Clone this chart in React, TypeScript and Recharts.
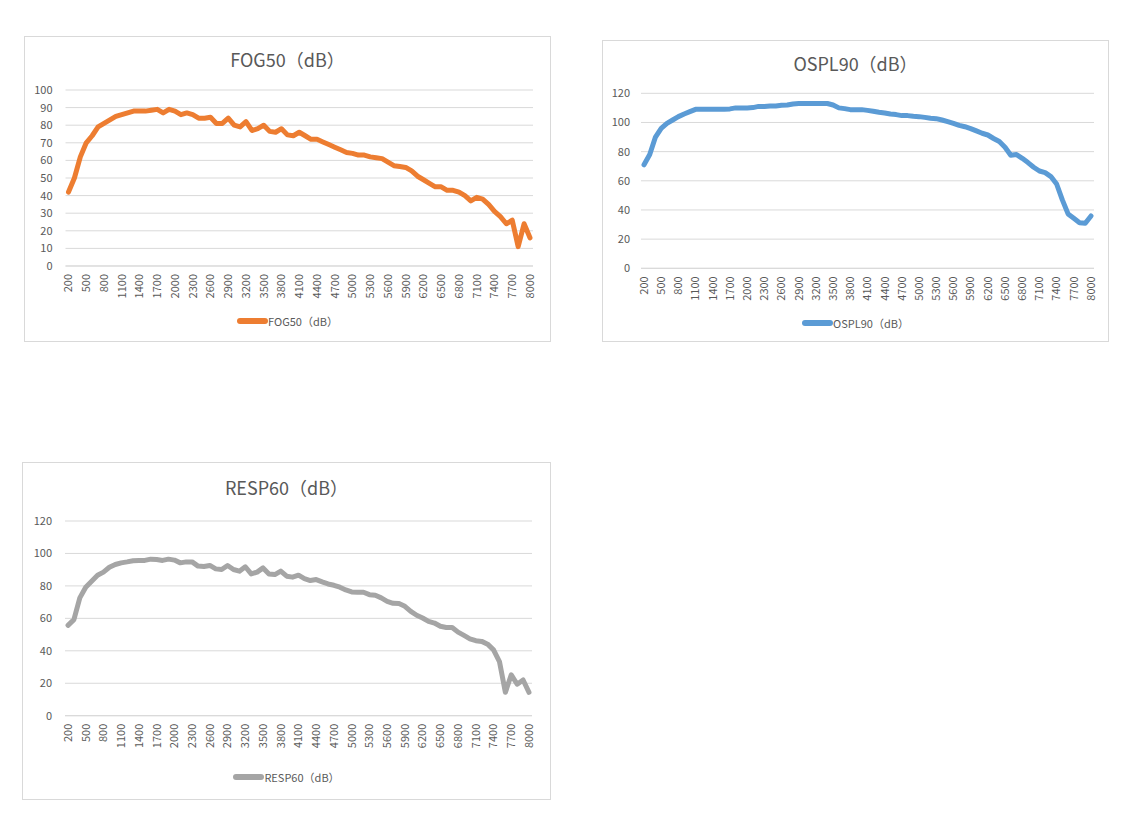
import React from 'react';
import { LineChart, Line, XAxis, YAxis, CartesianGrid, Legend } from 'recharts';

const FREQUENCIES = [
  200, 300, 400, 500, 600, 700, 800, 900, 1000, 1100, 1200, 1300, 1400, 1500, 1600, 1700, 1800, 1900, 2000,
  2100, 2200, 2300, 2400, 2500, 2600, 2700, 2800, 2900, 3000, 3100, 3200, 3300, 3400, 3500, 3600, 3700, 3800,
  3900, 4000, 4100, 4200, 4300, 4400, 4500, 4600, 4700, 4800, 4900, 5000, 5100, 5200, 5300, 5400, 5500, 5600,
  5700, 5800, 5900, 6000, 6100, 6200, 6300, 6400, 6500, 6600, 6700, 6800, 6900, 7000, 7100, 7200, 7300, 7400,
  7500, 7600, 7700, 7800, 7900, 8000,
];

const FOG50 = [
  42, 50, 62, 70, 74, 79, 81, 83, 85, 86, 87, 88, 88, 88, 88.5, 89, 87, 89, 88,
  86, 87, 86, 84, 84, 84.5, 81, 81, 84, 80, 79, 82, 77, 78, 80, 76.5, 76, 78,
  74.5, 74, 76, 74, 72, 72, 70.5, 69, 67.5, 66, 64.5, 64, 63, 63, 62, 61.5, 61, 59,
  57, 56.5, 56, 54, 51, 49, 47, 45, 45, 43, 43, 42, 40, 37, 39, 38, 35, 31,
  28, 24, 26, 11, 24, 16,
];

const OSPL90 = [
  71, 78, 90, 96, 99.4, 101.7, 104, 105.8, 107.4, 109, 109, 109, 109, 109, 109, 109.3, 110, 110, 110,
  110.2, 111, 111, 111.3, 111.3, 111.8, 112, 112.7, 113, 113, 113, 113, 113, 113, 112, 110, 109.5, 108.8,
  108.8, 108.8, 108.3, 107.7, 107, 106.5, 105.8, 105.4, 104.7, 104.7, 104.2, 104, 103.5, 102.9, 102.6, 101.7, 100.6, 99.4,
  98, 97.1, 95.8, 94.2, 92.6, 91.4, 89, 86.9, 83, 77.5, 78, 75.4, 72.5, 69.3, 66.7, 65.6, 62.9, 57.8,
  46.9, 37.3, 34.3, 31.3, 30.9, 35.9,
];

const RESP60 = [
  55.7, 59.2, 72.6, 79.2, 82.9, 86.6, 88.5, 91.5, 93.2, 94.2, 94.8, 95.5, 95.7, 95.7, 96.5, 96.3, 95.7, 96.5, 95.9,
  94.2, 94.8, 94.8, 92.2, 92, 92.6, 90.5, 90.1, 92.6, 90.1, 89.1, 91.8, 87.4, 88.5, 91.1, 87.4, 87, 89.1,
  86, 85.4, 86.6, 84.5, 83.3, 83.9, 82.5, 81.2, 80.4, 79.2, 77.5, 76.3, 76.1, 76.1, 74.6, 74.2, 72.6, 70.5,
  69.3, 69.1, 67.4, 64.3, 61.9, 60.2, 58.1, 57.1, 55.1, 54.4, 54.4, 51.5, 49.5, 47.4, 46.2, 45.8, 44.1, 40.6,
  33.4, 14.4, 25.2, 19.4, 22, 14.4,
];

const TICKS_100 = [0, 10, 20, 30, 40, 50, 60, 70, 80, 90, 100];
const TICKS_120 = [0, 20, 40, 60, 80, 100, 120];

const TITLE_FOG = 'FOG50（dB）';
const TITLE_OSPL = 'OSPL90（dB）';
const TITLE_RESP = 'RESP60（dB）';

const FONT = '"Noto Sans CJK SC", "Noto Sans", sans-serif';
const TEXT = '#595959';
const GRID = '#d9d9d9';

function XTick(props: any) {
  const { x, y, payload } = props;
  return (
    <text
      x={x}
      y={y}
      transform={`rotate(-90, ${x}, ${y})`}
      textAnchor="end"
      dy="0.35em"
      fill={TEXT}
      fontSize={11}
      fontFamily={FONT}
    >
      {payload.value}
    </text>
  );
}

type PanelProps = {
  left: number;
  top: number;
  width: number;
  height: number;
  title: string;
  values: number[];
  color: string;
  ticks: number[];
  margin: { top: number; right: number; bottom: number; left: number };
  yGap: number;
  xGap: number;
  titleCenter: number;
  legendCenter: number;
};

function Panel(p: PanelProps) {
  const rows = FREQUENCIES.map((f, i) => ({ f, v: p.values[i] }));
  const cw = p.width - 2;
  const ch = p.height - 2;
  return (
    <div
      style={{
        position: 'absolute',
        left: p.left,
        top: p.top,
        width: p.width,
        height: p.height,
        border: `1px solid ${GRID}`,
        boxSizing: 'border-box',
        background: '#fff',
      }}
    >
      <div
        style={{
          position: 'absolute',
          left: 0,
          width: cw,
          top: p.titleCenter - 14,
          height: 28,
          lineHeight: '28px',
          textAlign: 'center',
          fontFamily: FONT,
          fontSize: 18,
          color: TEXT,
          whiteSpace: 'nowrap',
        }}
      >
        {p.title}
      </div>
      <LineChart width={cw} height={ch} data={rows} margin={p.margin}>
        <CartesianGrid vertical={false} stroke={GRID} strokeWidth={1} />
        <XAxis
          dataKey="f"
          type="category"
          interval={2}
          tick={<XTick />}
          tickLine={false}
          tickSize={0}
          tickMargin={p.xGap}
          axisLine={{ stroke: GRID }}
          padding={{ left: 3, right: 3 }}
          height={60}
        />
        <YAxis
          domain={[p.ticks[0], p.ticks[p.ticks.length - 1]]}
          ticks={p.ticks}
          interval={0}
          axisLine={false}
          tickLine={false}
          tickSize={0}
          tickMargin={p.yGap}
          width={30}
          tick={{ fill: TEXT, fontSize: 11, fontFamily: FONT }}
        />
        <Legend
          layout="horizontal"
          verticalAlign="middle"
          align="center"
          wrapperStyle={{ top: p.legendCenter - 10, left: 0, width: cw, height: 20 }}
          content={(lp: any) => {
            const entry = (lp.payload && lp.payload[0]) || { value: p.title, color: p.color };
            return (
              <div
                style={{
                  display: 'flex',
                  justifyContent: 'center',
                  alignItems: 'center',
                  height: 20,
                  fontFamily: FONT,
                  fontSize: 11,
                  color: TEXT,
                  whiteSpace: 'nowrap',
                }}
              >
                <svg width={31} height={10} style={{ display: 'block' }}>
                  <line x1={3} y1={5} x2={28} y2={5} stroke={entry.color || p.color} strokeWidth={6} strokeLinecap="round" />
                </svg>
                <span>{entry.value}</span>
              </div>
            );
          }}
        />
        <Line
          type="linear"
          dataKey="v"
          name={p.title}
          stroke={p.color}
          strokeWidth={5}
          strokeLinecap="round"
          strokeLinejoin="round"
          dot={false}
          activeDot={false}
          isAnimationActive={false}
        />
      </LineChart>
    </div>
  );
}

export default function App() {
  return (
    <div style={{ position: 'absolute', left: 0, top: 0, width: 1137, height: 816, background: '#fff' }}>
      <Panel
        left={24}
        top={36}
        width={527}
        height={306}
        title={TITLE_FOG}
        values={FOG50}
        color="#ED7D31"
        ticks={TICKS_100}
        margin={{ top: 53, right: 17, bottom: 15, left: 10.5 }}
        yGap={13}
        xGap={8}
        titleCenter={22}
        legendCenter={284}
      />
      <Panel
        left={602}
        top={40}
        width={507}
        height={302}
        title={TITLE_OSPL}
        values={OSPL90}
        color="#5B9BD5"
        ticks={TICKS_120}
        margin={{ top: 52.3, right: 14, bottom: 12.7, left: 8 }}
        yGap={11}
        xGap={8}
        titleCenter={22}
        legendCenter={281.7}
      />
      <Panel
        left={22}
        top={462}
        width={529}
        height={338}
        title={TITLE_RESP}
        values={RESP60}
        color="#A5A5A5"
        ticks={TICKS_120}
        margin={{ top: 58, right: 18, bottom: 23.3, left: 12 }}
        yGap={13}
        xGap={8}
        titleCenter={24}
        legendCenter={314}
      />
    </div>
  );
}
